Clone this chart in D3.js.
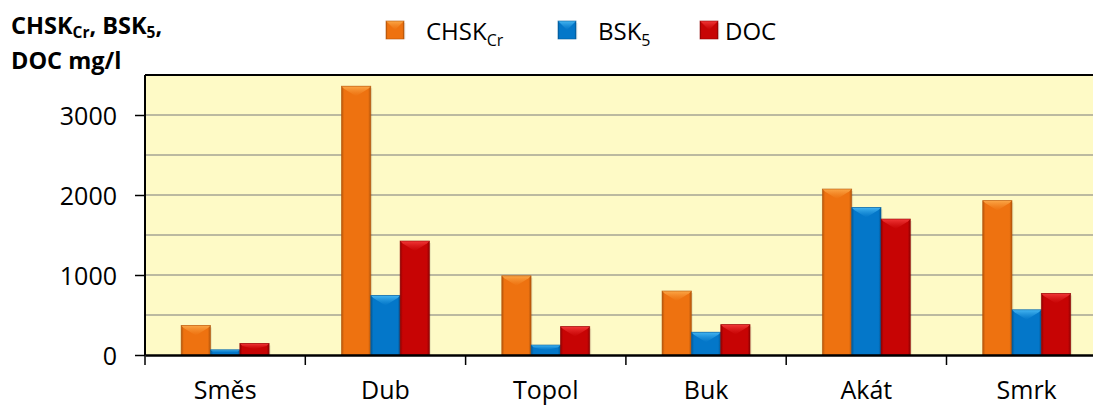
<!DOCTYPE html>
<html><head><meta charset="utf-8">
<script src="https://cdn.jsdelivr.net/npm/d3@7"></script>
<style>
html,body{margin:0;padding:0;background:#fff;}
svg{display:block;font-family:"Open Sans",sans-serif;}
</style></head>
<body>
<svg id="c" width="1093" height="405"></svg>
<script>
const categories = ["Směs","Dub","Topol","Buk","Akát","Smrk"];
const seriesNames = ["CHSK","BSK","DOC"];
const seriesSubs = ["Cr","5",""];
const chskValues = [370, 3360, 990, 800, 2075, 1930];
const bskValues  = [65, 745, 125, 285, 1845, 565];
const docValues  = [145, 1425, 355, 380, 1700, 770];
const yTicks = [0, 1000, 2000, 3000];
const yGrid = [500, 1000, 1500, 2000, 2500, 3000];

(function(){
const seriesData = [chskValues, bskValues, docValues];
const palette = [
  {main:"#EE7210", light:"#FBA748", dark:"#B2540A", bottom:"#D9680E"},
  {main:"#0477C9", light:"#45B6F2", dark:"#035A98", bottom:"#056CB6"},
  {main:"#C70404", light:"#F23838", dark:"#8E0202", bottom:"#B40404"}
];

const svg = d3.select("#c");
const pL = 145, pT = 75, pB = 355;
const bandW = 160.3;
const x = d3.scaleBand().domain(categories).range([pL, pL + bandW*categories.length]).padding(0);
const inner = d3.scaleBand().domain(d3.range(3)).range([0, 88]).padding(0);
const y = d3.scaleLinear().domain([0, 3500]).range([pB, pT]);

const defs = svg.append("defs");
palette.forEach((p,i)=>{
  const g = defs.append("linearGradient").attr("id","hg"+i).attr("x1","0").attr("x2","1").attr("y1","0").attr("y2","0");
  g.append("stop").attr("offset","0").attr("stop-color",p.dark);
  g.append("stop").attr("offset","0.09").attr("stop-color",p.main);
  g.append("stop").attr("offset","0.91").attr("stop-color",p.main);
  g.append("stop").attr("offset","1").attr("stop-color",p.dark);
  const t = defs.append("linearGradient").attr("id","tg"+i).attr("x1","0").attr("x2","0").attr("y1","0").attr("y2","1");
  t.append("stop").attr("offset","0").attr("stop-color",p.light);
  t.append("stop").attr("offset","1").attr("stop-color",p.main).attr("stop-opacity","0.6");
});

svg.append("rect").attr("x", pL).attr("y", pT).attr("width", bandW*6).attr("height", pB-pT)
  .attr("fill","#FEFAC6");

svg.append("g").selectAll("line").data(yGrid).join("line")
  .attr("x1", pL).attr("x2", pL + bandW*6)
  .attr("y1", d=>y(d)).attr("y2", d=>y(d))
  .attr("stroke","#A5A393").attr("stroke-width",1.5);

function drawBar(g, x0, w, yt, yb, i){
  const h = yb - yt;
  const b = Math.min(10, h/2, w/2);
  g.append("rect").attr("x",x0+1.5).attr("y",yt+2).attr("width",w).attr("height",h-2)
    .attr("fill","#000").attr("opacity",0.08);
  g.append("rect").attr("x",x0).attr("y",yt).attr("width",w).attr("height",h).attr("fill",`url(#hg${i})`);
  g.append("path").attr("d",`M${x0},${yt}L${x0+w},${yt}L${x0+w-2.5},${yt+2.5}L${x0+w/2},${yt+b}L${x0+2.5},${yt+2.5}Z`)
    .attr("fill",`url(#tg${i})`);
  if (h > 14) {
    g.append("path").attr("d",`M${x0+2.5},${yb}Q${x0+w/2},${yb-2*b}${x0+w-2.5},${yb}Z`)
      .attr("fill",palette[i].bottom).attr("opacity",0.8);
  }
  g.append("rect").attr("x",x0).attr("y",yt).attr("width",w).attr("height",h)
    .attr("fill","none").attr("stroke",palette[i].dark).attr("stroke-width",0.8).attr("opacity",0.7);
}
const barsG = svg.append("g");
categories.forEach((c,ci)=>{
  const off = (x.bandwidth() - 88)/2;
  seriesData.forEach((vals,si)=>{
    const x0 = x(c) + off + inner(si);
    drawBar(barsG, x0, inner.bandwidth(), y(vals[ci]), y(0), si);
  });
});

svg.append("line").attr("x1",pL).attr("x2",pL+bandW*6).attr("y1",pT).attr("y2",pT)
  .attr("stroke","#000").attr("stroke-width",2);

const yAxis = d3.axisLeft(y).tickValues(yTicks).tickSize(10).tickPadding(18).tickFormat(d3.format("d"));
const ya = svg.append("g").attr("transform",`translate(${pL},0)`).call(yAxis);
ya.select(".domain").attr("stroke","#000").attr("stroke-width",2).attr("d",`M0,${pT}V${pB}`);
ya.selectAll(".tick line").attr("stroke","#000").attr("stroke-width",1.5);
ya.selectAll(".tick text").attr("font-size",25).attr("fill","#000").attr("font-family","Open Sans").attr("dy","0.36em");

const xAxis = d3.axisBottom(x).tickSize(0).tickPadding(18);
const xa = svg.append("g").attr("transform",`translate(0,${pB})`).call(xAxis);
xa.select(".domain").attr("stroke","#000").attr("stroke-width",2.5);
xa.selectAll(".tick text").attr("font-size",25).attr("fill","#000").attr("font-family","Open Sans")
  .attr("y",44).attr("dy","0");
svg.append("g").selectAll("line").data(categories).join("line")
  .attr("x1",d=>x(d)).attr("x2",d=>x(d)).attr("y1",pB).attr("y2",pB+10)
  .attr("stroke","#000").attr("stroke-width",1.5);

const t1 = svg.append("text").attr("x",11).attr("y",34).attr("font-weight","bold").attr("font-size",23.5).attr("fill","#000");
t1.append("tspan").text("CHSK");
t1.append("tspan").text("Cr").attr("font-size",15.5).attr("dy",4);
t1.append("tspan").text(", BSK").attr("dy",-4);
t1.append("tspan").text("5").attr("font-size",15.5).attr("dy",4);
t1.append("tspan").text(",").attr("dy",-4);
svg.append("text").attr("x",11).attr("y",69).attr("font-weight","bold").attr("font-size",23.5).attr("fill","#000").text("DOC mg/l");

const legX = [386, 558, 700];
const legTX = [426, 598, 725];
const lg = svg.append("g");
seriesNames.forEach((n,i)=>{
  drawBar(lg, legX[i], 18, 21, 39, i);
  const t = lg.append("text").attr("x",legTX[i]).attr("y",40).attr("font-size",24).attr("fill","#000");
  t.append("tspan").text(n);
  if (seriesSubs[i]) t.append("tspan").text(seriesSubs[i]).attr("font-size",16).attr("dy",6);
});
})();
</script>
</body></html>
